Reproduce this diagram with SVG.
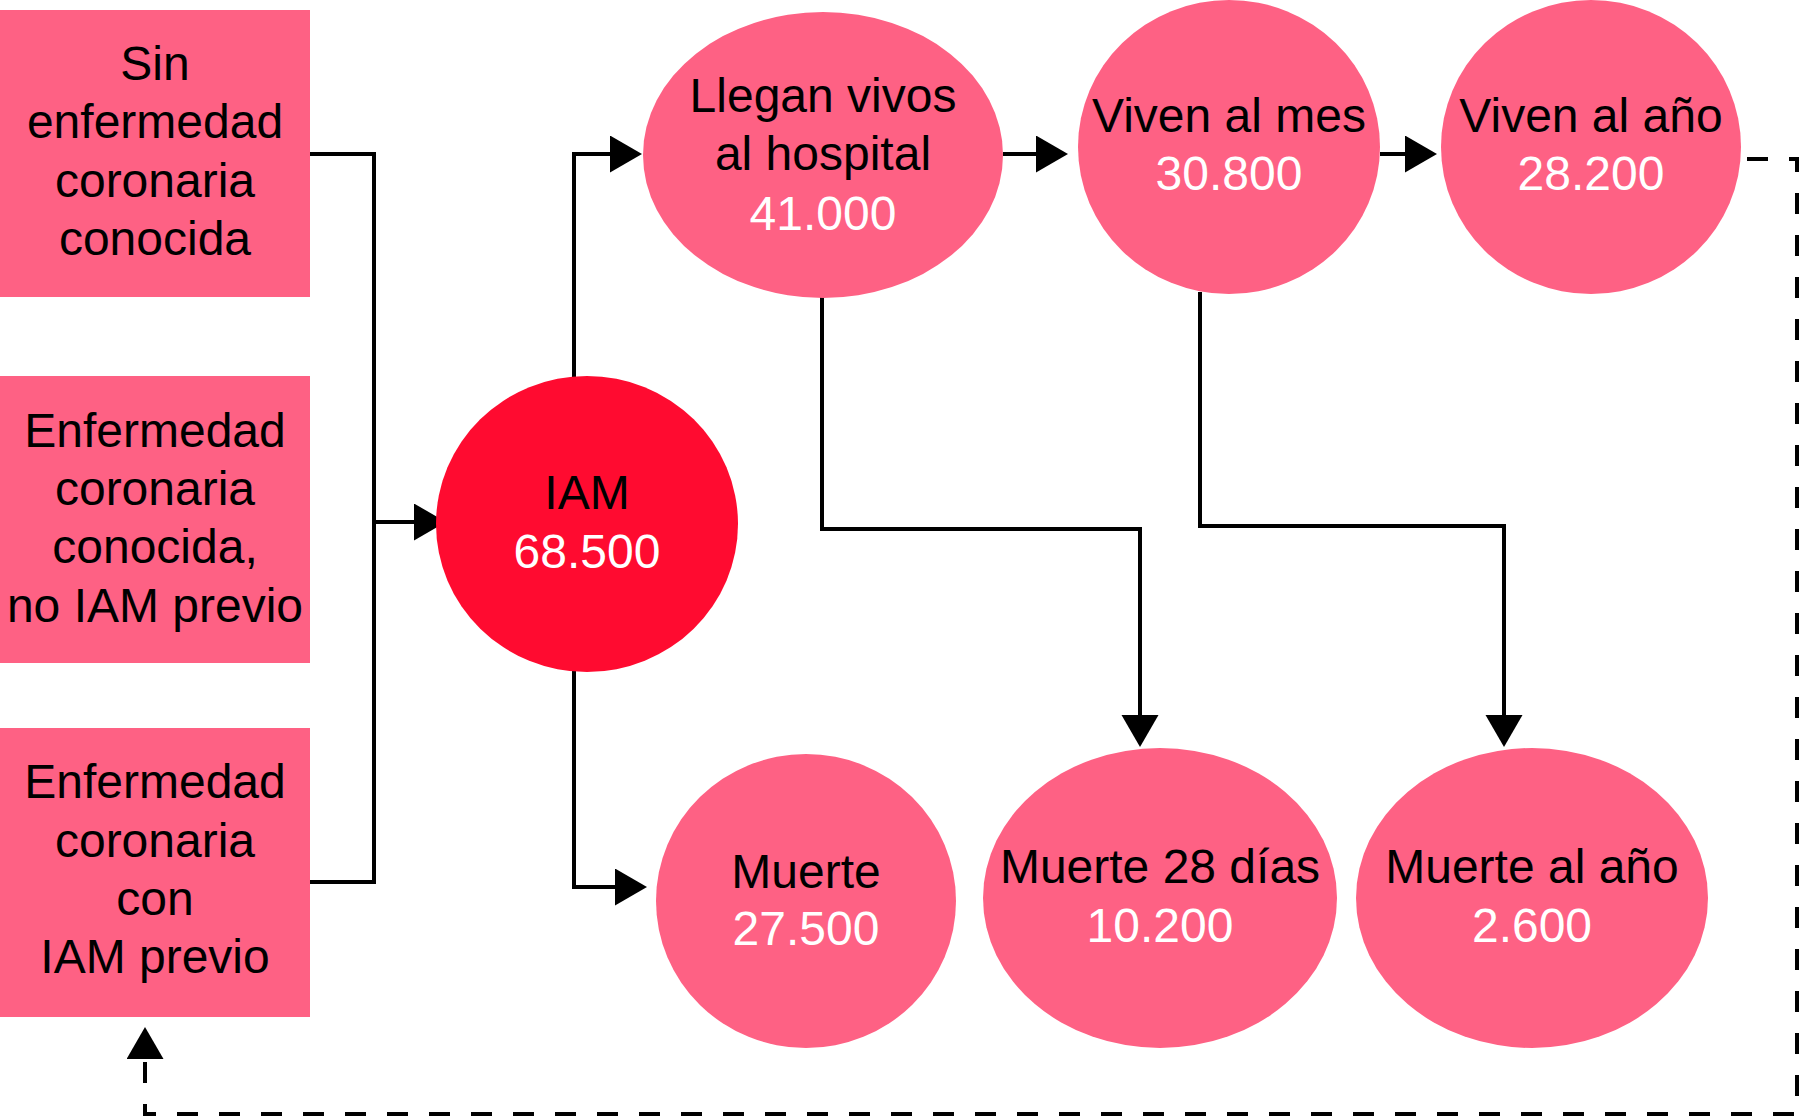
<svg xmlns="http://www.w3.org/2000/svg" width="1799" height="1116" viewBox="0 0 1799 1116">
<style>
.box{fill:#FE6184}
.pink{fill:#FE6184}
.red{fill:#FF0B30}
text{font-family:"Liberation Sans",Arial,Helvetica,sans-serif;font-size:48px;text-anchor:middle}
.lbl{fill:#000}
.num{fill:#fff}
.conn{fill:none;stroke:#000;stroke-width:4}
.dash{stroke-dasharray:21 21}
</style>
<defs>
<marker id="arr" markerUnits="userSpaceOnUse" markerWidth="33" markerHeight="38" refX="0" refY="18.5" orient="auto" viewBox="0 0 33 38">
<path d="M0,0 L32,18.5 L0,37 Z" fill="#000"/>
</marker>
</defs>
<rect width="1799" height="1116" fill="#fff"/>

<g id="connectors">
<path class="conn" d="M310 154 H374 V882 H310"/>
<path class="conn" d="M374 522 H414" marker-end="url(#arr)"/>
<path class="conn" d="M574 378 V154 H610" marker-end="url(#arr)"/>
<path class="conn" d="M574 670 V887 H615" marker-end="url(#arr)"/>
<path class="conn" d="M1003 154 H1036" marker-end="url(#arr)"/>
<path class="conn" d="M1380 154 H1405" marker-end="url(#arr)"/>
<path class="conn" d="M822 296 V529 H1140 V715" marker-end="url(#arr)"/>
<path class="conn" d="M1200 292 V526 H1504 V715" marker-end="url(#arr)"/>
<path class="conn dash" d="M1747 159 H1797 V1114 H145 V1059" marker-end="url(#arr)"/>
</g>

<g id="box-sin">
<rect class="box" x="0" y="10" width="310" height="287"/>
<text class="lbl" x="155" y="80">Sin</text>
<text class="lbl" x="155" y="138">enfermedad</text>
<text class="lbl" x="155" y="197">coronaria</text>
<text class="lbl" x="155" y="255">conocida</text>
</g>
<g id="box-conocida">
<rect class="box" x="0" y="376" width="310" height="287"/>
<text class="lbl" x="155" y="447">Enfermedad</text>
<text class="lbl" x="155" y="505">coronaria</text>
<text class="lbl" x="155" y="563">conocida,</text>
<text class="lbl" x="155" y="622">no IAM previo</text>
</g>
<g id="box-previo">
<rect class="box" x="0" y="728" width="310" height="289"/>
<text class="lbl" x="155" y="798">Enfermedad</text>
<text class="lbl" x="155" y="857">coronaria</text>
<text class="lbl" x="155" y="915">con</text>
<text class="lbl" x="155" y="973">IAM previo</text>
</g>
<g id="iam">
<ellipse class="red" cx="587" cy="524" rx="151" ry="148"/>
<text class="lbl" x="587" y="509">IAM</text>
<text class="num" x="587" y="568">68.500</text>
</g>
<g id="llegan">
<ellipse class="pink" cx="823" cy="155" rx="180" ry="143"/>
<text class="lbl" x="823" y="112">Llegan vivos</text>
<text class="lbl" x="823" y="170">al hospital</text>
<text class="num" x="823" y="230">41.000</text>
</g>
<g id="viven-mes">
<ellipse class="pink" cx="1229" cy="147" rx="151" ry="147"/>
<text class="lbl" x="1229" y="132">Viven al mes</text>
<text class="num" x="1229" y="190">30.800</text>
</g>
<g id="viven-ano">
<ellipse class="pink" cx="1591" cy="147" rx="150" ry="147"/>
<text class="lbl" x="1591" y="132">Viven al año</text>
<text class="num" x="1591" y="190">28.200</text>
</g>
<g id="muerte">
<ellipse class="pink" cx="806" cy="901" rx="150" ry="147"/>
<text class="lbl" x="806" y="888">Muerte</text>
<text class="num" x="806" y="945">27.500</text>
</g>
<g id="muerte-28">
<ellipse class="pink" cx="1160" cy="898" rx="177" ry="150"/>
<text class="lbl" x="1160" y="883">Muerte 28 días</text>
<text class="num" x="1160" y="942">10.200</text>
</g>
<g id="muerte-ano">
<ellipse class="pink" cx="1532" cy="898" rx="176" ry="150"/>
<text class="lbl" x="1532" y="883">Muerte al año</text>
<text class="num" x="1532" y="942">2.600</text>
</g>
</svg>
